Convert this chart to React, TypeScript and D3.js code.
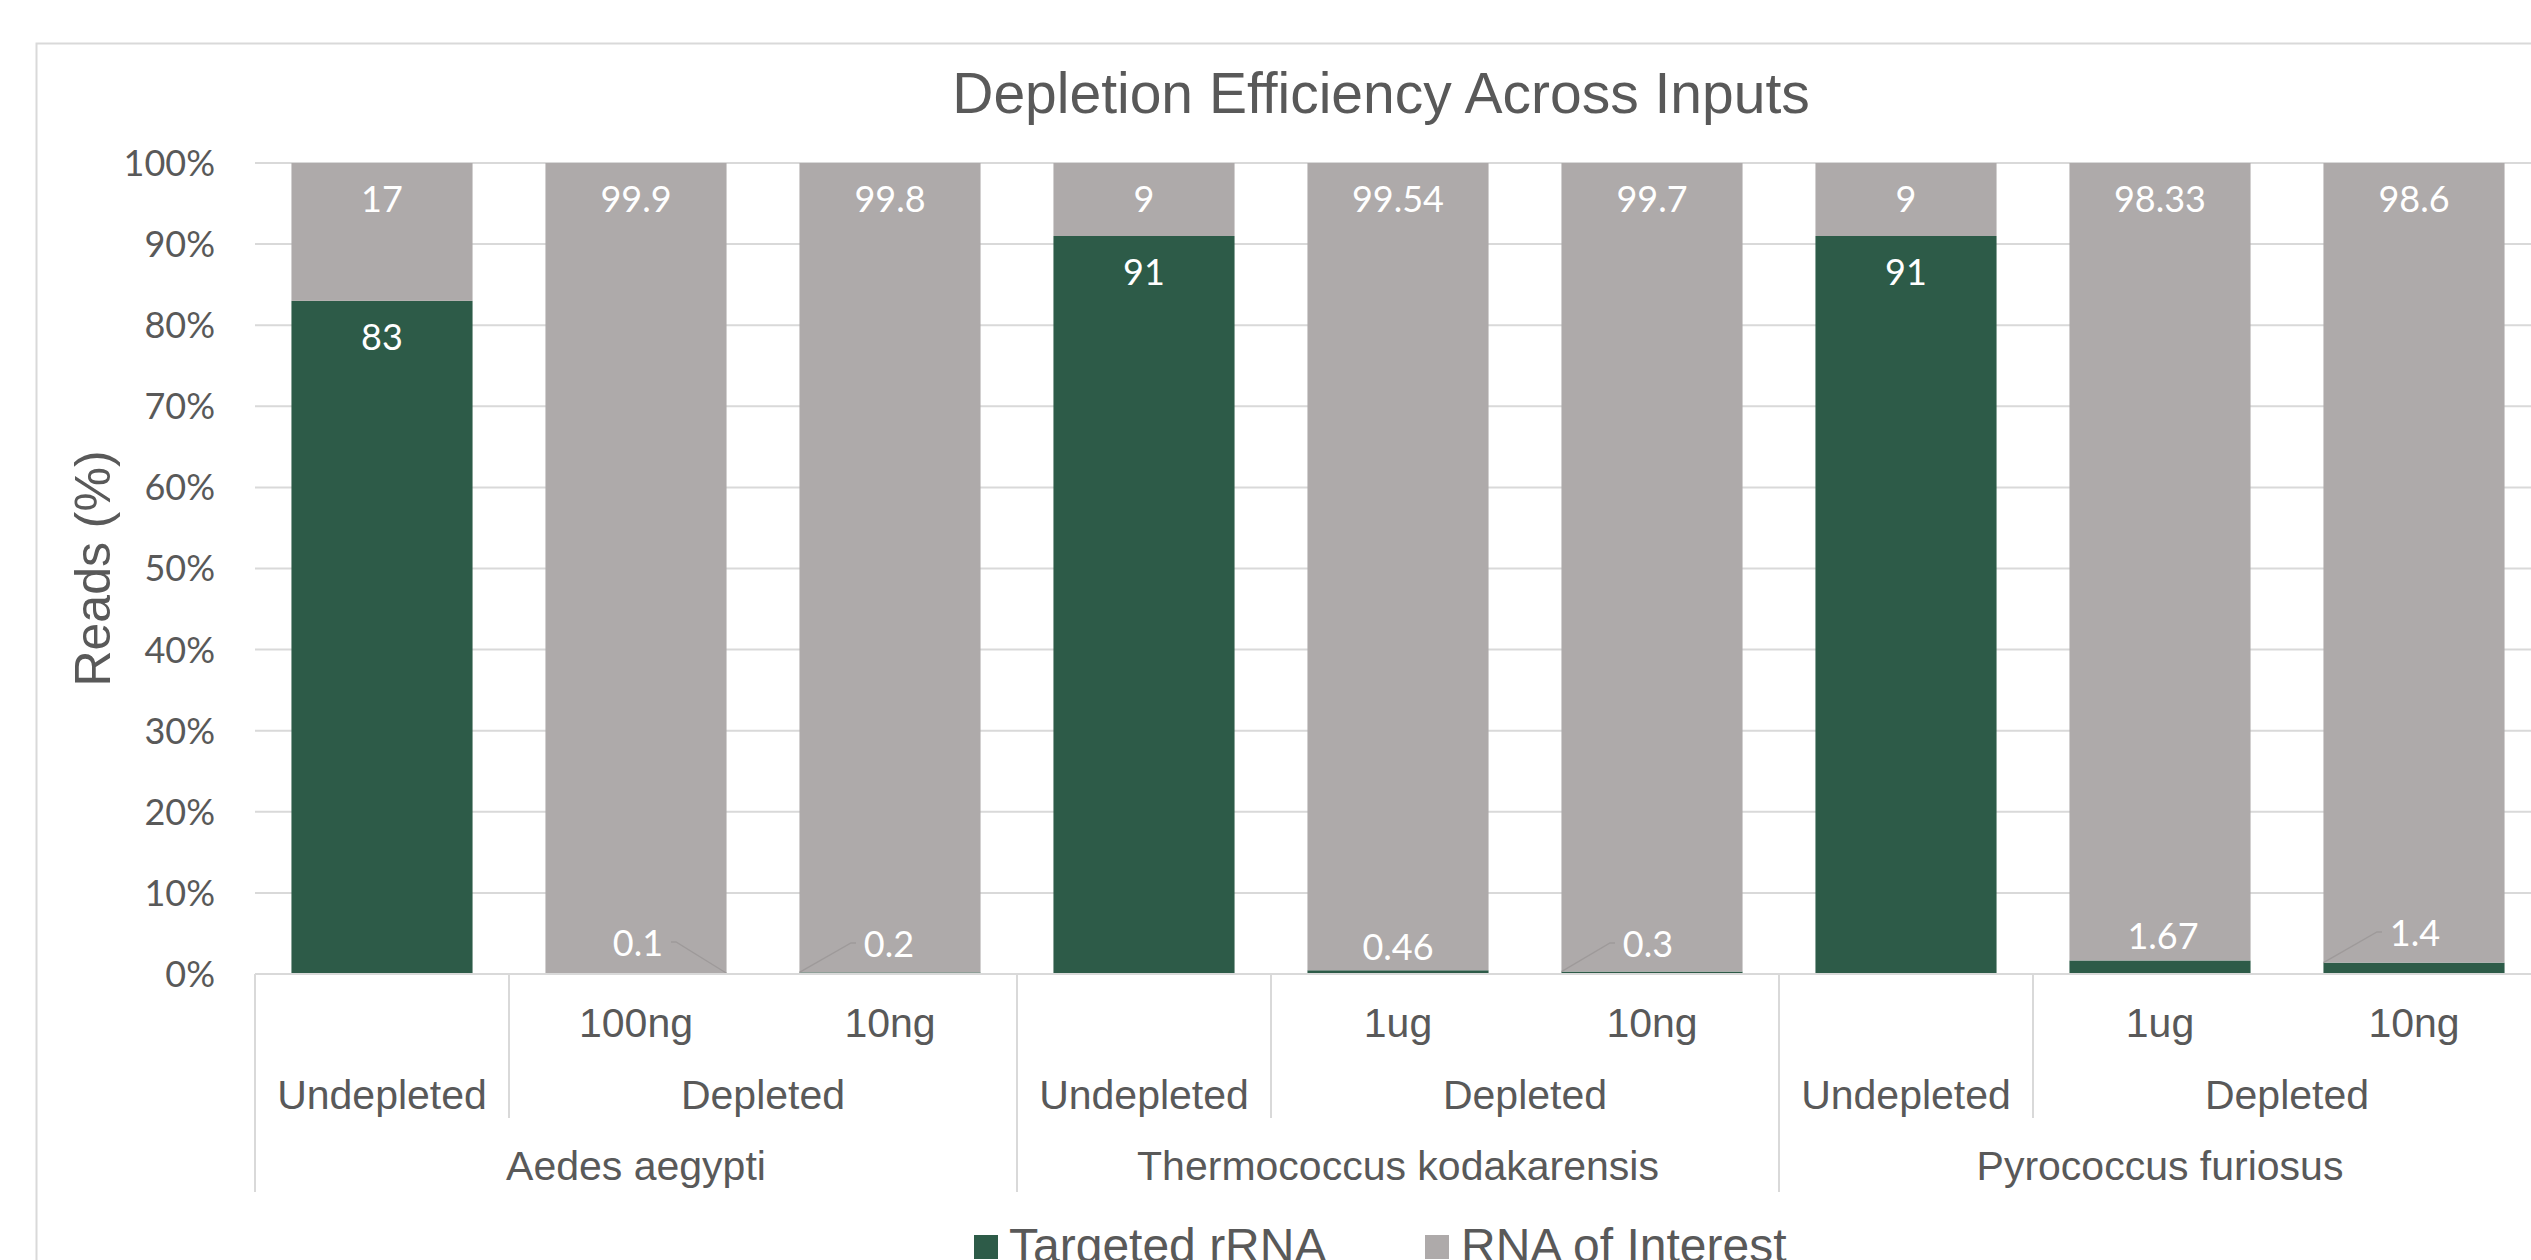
import * as d3 from "d3";

const leafLabels = ["", "100ng", "10ng", "", "1ug", "10ng", "", "1ug", "10ng"];
const conditions = ["Undepleted", "Depleted", "Depleted", "Undepleted", "Depleted", "Depleted", "Undepleted", "Depleted", "Depleted"];
const organisms = [
  "Aedes aegypti", "Aedes aegypti", "Aedes aegypti",
  "Thermococcus kodakarensis", "Thermococcus kodakarensis", "Thermococcus kodakarensis",
  "Pyrococcus furiosus", "Pyrococcus furiosus", "Pyrococcus furiosus",
];
const targeted = [83, 0.1, 0.2, 91, 0.46, 0.3, 91, 1.67, 1.4];
const interest = [17, 99.9, 99.8, 9, 99.54, 99.7, 9, 98.33, 98.6];
const yTicks = [0, 10, 20, 30, 40, 50, 60, 70, 80, 90, 100];
const seriesNames = ["Targeted rRNA", "RNA of Interest"];

// hand-placed labels for the thin targeted segments (Excel moved these)
const smallLabelPos: Record<number, { dx: number; dy: number; leader?: "left" | "right" }> = {
  1: { dx: 2, dy: -31, leader: "right" },
  2: { dx: -1, dy: -30, leader: "left" },
  4: { dx: 0, dy: -27 },
  5: { dx: -4, dy: -30, leader: "left" },
  7: { dx: 3, dy: -38 },
  8: { dx: 1, dy: -41, leader: "left" },
};

const GREEN = "#2D5B48";
const GRAY = "#AEAAAA";
const TEXT = "#595959";
const GRID = "#D9D9D9";
const SANS = "'Liberation Sans', Arial, sans-serif";
const CALIBRI = "Lato, 'Open Sans', sans-serif";

export default function App() {
  const W = 2531;
  const H = 1260;
  const plotLeft = 255;
  const step = 254;
  const n = targeted.length;

  const x = d3.scaleBand<number>()
    .domain(d3.range(n))
    .range([plotLeft, plotLeft + step * n])
    .paddingInner(0.287)
    .paddingOuter(0.1435);
  const y = d3.scaleLinear().domain([0, 100]).range([974, 163]);
  const bw = x.bandwidth();
  const y0 = y(0);

  const bandLeft = (i: number) => plotLeft + step * i;

  // group spans for the multi-level axis
  const spans = (arr: string[]) => {
    const out: { label: string; start: number; end: number }[] = [];
    arr.forEach((l, i) => {
      const last = out[out.length - 1];
      if (last && last.label === l && (arr === conditions ? organisms[i] === organisms[last.start] : true)) last.end = i;
      else out.push({ label: l, start: i, end: i });
    });
    return out;
  };
  const condSpans = spans(conditions);
  const orgSpans = spans(organisms);

  return (
    <svg width={W} height={H} style={{ position: "absolute", left: 0, top: 0, background: "#fff" }}>
      <rect x={36.5} y={43.5} width={2700} height={1400} fill="#fff" stroke={GRID} strokeWidth={2} />

      <text x={1381} y={113} textAnchor="middle" fontFamily={SANS} fontSize={57} fill={TEXT}>
        Depletion Efficiency Across Inputs
      </text>

      {/* gridlines */}
      {yTicks.map((t) => (
        <line key={t} x1={plotLeft} x2={plotLeft + step * n} y1={y(t)} y2={y(t)} stroke={GRID} strokeWidth={2} />
      ))}

      {/* y tick labels */}
      {yTicks.map((t) => (
        <text key={t} x={215} y={y(t)} dy="0.36em" textAnchor="end" fontFamily={CALIBRI} fontSize={36} fill={TEXT}>
          {t}%
        </text>
      ))}

      <text transform={`translate(110,${(y(0) + y(100)) / 2}) rotate(-90)`} textAnchor="middle" fontFamily={SANS} fontSize={50} fill={TEXT}>
        Reads (%)
      </text>

      {/* stacked bars */}
      {targeted.map((v, i) => {
        const bx = x(i)!;
        return (
          <g key={i}>
            <rect x={bx} y={y(v)} width={bw} height={y0 - y(v)} fill={GREEN} />
            <rect x={bx} y={y(v + interest[i])} width={bw} height={y(v) - y(v + interest[i])} fill={GRAY} />
          </g>
        );
      })}

      {/* data labels */}
      {targeted.map((v, i) => {
        const cx = x(i)! + bw / 2;
        const top = y(v + interest[i]);
        const els = [
          <text key="b" x={cx} y={top + 36} dy="0.36em" textAnchor="middle" fontFamily={CALIBRI} fontSize={36} fill="#fff">
            {interest[i]}
          </text>,
        ];
        const pos = smallLabelPos[i];
        if (!pos) {
          els.push(
            <text key="a" x={cx} y={y(v) + 36} dy="0.36em" textAnchor="middle" fontFamily={CALIBRI} fontSize={36} fill="#fff">
              {v}
            </text>
          );
        } else {
          const lx = cx + pos.dx;
          const ly = y0 + pos.dy;
          els.push(
            <text key="a" x={lx} y={ly} dy="0.36em" textAnchor="middle" fontFamily={CALIBRI} fontSize={36} fill="#fff">
              {v}
            </text>
          );
          if (pos.leader) {
            const dir = pos.leader === "right" ? 1 : -1;
            const sx = lx + dir * 33;
            const ex = pos.leader === "right" ? x(i)! + bw : x(i)!;
            const ey = y(v);
            els.push(
              <polyline
                key="l"
                points={`${sx},${ly - 1} ${sx + dir * 5},${ly - 1} ${ex},${ey}`}
                fill="none"
                stroke="#9E9A9A"
                strokeWidth={1.3}
              />
            );
          }
        }
        return <g key={i}>{els}</g>;
      })}

      {/* category axis */}
      <line x1={plotLeft} x2={plotLeft + step * n} y1={y0} y2={y0} stroke={GRID} strokeWidth={2} />
      {orgSpans.map((s) => (
        <line key={"o" + s.start} x1={bandLeft(s.start)} x2={bandLeft(s.start)} y1={y0} y2={1192} stroke={GRID} strokeWidth={2} />
      ))}
      {condSpans.filter((s) => organisms[s.start] === organisms[s.start - 1]).map((s) => (
        <line key={"c" + s.start} x1={bandLeft(s.start)} x2={bandLeft(s.start)} y1={y0} y2={1118} stroke={GRID} strokeWidth={2} />
      ))}
      {leafLabels.map((l, i) => (
        <text key={"l" + i} x={x(i)! + bw / 2} y={1037} textAnchor="middle" fontFamily={SANS} fontSize={41} fill={TEXT}>
          {l}
        </text>
      ))}
      {condSpans.map((s) => (
        <text key={"cl" + s.start} x={(bandLeft(s.start) + bandLeft(s.end + 1)) / 2} y={1109} textAnchor="middle" fontFamily={SANS} fontSize={41} fill={TEXT}>
          {s.label}
        </text>
      ))}
      {orgSpans.map((s) => (
        <text key={"ol" + s.start} x={(bandLeft(s.start) + bandLeft(s.end + 1)) / 2} y={1180} textAnchor="middle" fontFamily={SANS} fontSize={41} fill={TEXT}>
          {s.label}
        </text>
      ))}

      {/* legend */}
      <rect x={974} y={1235} width={24} height={24} fill={GREEN} />
      <text x={1009} y={1262} fontFamily={SANS} fontSize={48} fill={TEXT}>{seriesNames[0]}</text>
      <rect x={1425} y={1235} width={24} height={24} fill={GRAY} />
      <text x={1461} y={1262} fontFamily={SANS} fontSize={48} fill={TEXT}>{seriesNames[1]}</text>
    </svg>
  );
}
